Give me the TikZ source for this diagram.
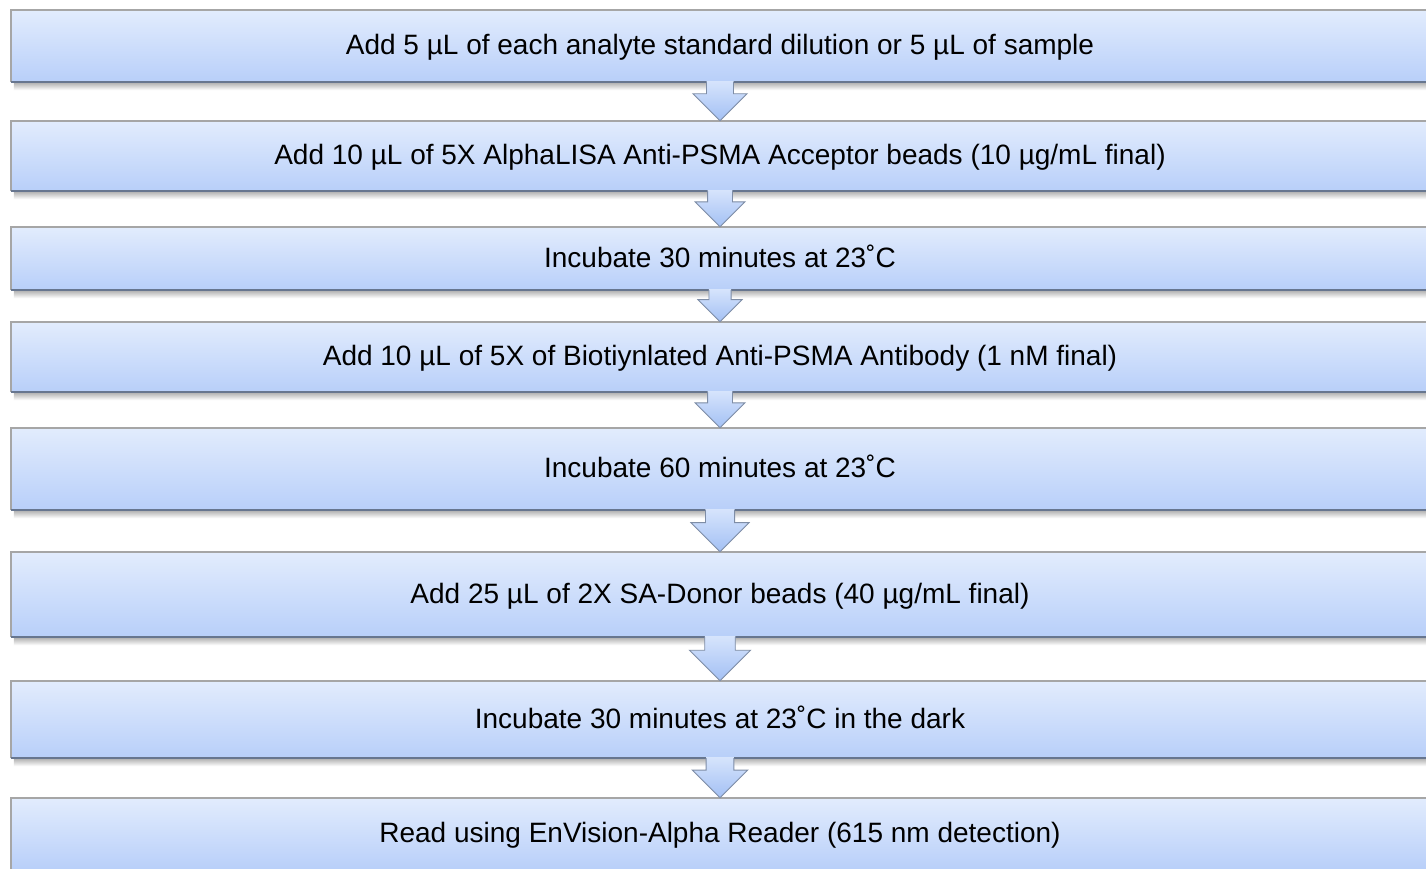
\documentclass[tikz,border=0pt]{standalone}
\usepackage{fontspec}
\setmainfont{Liberation Sans}
\usetikzlibrary{calc,backgrounds}
\definecolor{boxtop}{HTML}{E2ECFD}
\definecolor{boxbot}{HTML}{B8CFF9}
\definecolor{edgelight}{HTML}{A6A6A6}
\definecolor{edgedark}{HTML}{67768F}
\definecolor{arrtop}{HTML}{D6E4FC}
\definecolor{arrbot}{HTML}{A3C0F4}
\definecolor{arredge}{HTML}{7E8DA6}
\tikzset{
  stepbox/.style={rectangle, minimum width=1418pt, inner sep=0pt,
    top color=boxtop, bottom color=boxbot, text height=17pt, text depth=0pt,
    font=\fontsize{28}{33}\selectfont, text=black},
  lightedge/.style={edgelight, line width=1.5pt},
  darkedge/.style={edgedark, line width=1.5pt},
  arrowbody/.style={top color=arrtop, bottom color=arrbot},
  arrowline/.style={arredge, line width=0.9pt, line join=miter},
  arrowshadow/.style={black, opacity=0.14},
}
\newcommand\boxdeco[1]{%
  \begin{scope}[on background layer]
    \shade[top color=black!32, bottom color=white]
      ($(#1.south west)+(3,0)$) rectangle ($(#1.south east)+(0,8)$);
  \end{scope}
  \draw[lightedge] (#1.south west) -- (#1.north west) -- (#1.north east);
  \draw[darkedge] (#1.south west) -- (#1.south east);
}
\newcommand\flowarrow[2]{%
  \fill[arrowshadow, yshift=-3pt] let \p1=(#1.south), \p2=(#2.north), \n1={\y1-\y2} in
    ({\x1-0.35*\n1},{\y1}) -- ({\x1-0.35*\n1},{\y2+0.7*\n1}) -- ({\x1-0.7*\n1},{\y2+0.7*\n1})
    -- (\x1,\y2) -- ({\x1+0.7*\n1},{\y2+0.7*\n1}) -- ({\x1+0.35*\n1},{\y2+0.7*\n1})
    -- ({\x1+0.35*\n1},{\y1}) -- cycle;
  \shade[arrowbody] let \p1=(#1.south), \p2=(#2.north), \n1={\y1-\y2} in
    ({\x1-0.35*\n1},{\y1+1pt}) -- ({\x1-0.35*\n1},{\y2+0.7*\n1}) -- ({\x1-0.7*\n1},{\y2+0.7*\n1})
    -- (\x1,\y2) -- ({\x1+0.7*\n1},{\y2+0.7*\n1}) -- ({\x1+0.35*\n1},{\y2+0.7*\n1})
    -- ({\x1+0.35*\n1},{\y1+1pt}) -- cycle;
  \draw[arrowline] let \p1=(#1.south), \p2=(#2.north), \n1={\y1-\y2} in
    ({\x1-0.35*\n1},{\y1}) -- ({\x1-0.35*\n1},{\y2+0.7*\n1}) -- ({\x1-0.7*\n1},{\y2+0.7*\n1})
    -- (\x1,\y2) -- ({\x1+0.7*\n1},{\y2+0.7*\n1}) -- ({\x1+0.35*\n1},{\y2+0.7*\n1})
    -- ({\x1+0.35*\n1},{\y1});
}
\begin{document}
\begin{tikzpicture}[x=1pt,y=-1pt]
\useasboundingbox (0,0) rectangle (1426,869);
\begin{scope}[on background layer]
  \fill[white] (0,0) rectangle (1426,869);
\end{scope}
\clip (0,0) rectangle (1426,869);

\node[stepbox, minimum height=72pt] (b1) at (720,46)
  {Add 5 µL of each analyte standard dilution or 5 µL of sample};
\node[stepbox, minimum height=70pt] (b2) at (720,156)
  {Add 10 µL of 5X AlphaLISA Anti-PSMA Acceptor beads (10 µg/mL final)};
\node[stepbox, minimum height=63pt] (b3) at (720,258.5)
  {Incubate 30 minutes at 23˚C};
\node[stepbox, minimum height=70pt] (b4) at (720,357)
  {Add 10 µL of 5X of Biotiynlated Anti-PSMA Antibody (1 nM final)};
\node[stepbox, minimum height=82pt] (b5) at (720,469)
  {Incubate 60 minutes at 23˚C};
\node[stepbox, minimum height=85pt] (b6) at (720,594.5)
  {Add 25 µL of 2X SA-Donor beads (40 µg/mL final)};
\node[stepbox, minimum height=77pt] (b7) at (720,719.5)
  {Incubate 30 minutes at 23˚C in the dark};
\node[stepbox, minimum height=72pt] (b8) at (720,834)
  {Read using EnVision-Alpha Reader (615 nm detection)};

\boxdeco{b1}\boxdeco{b2}\boxdeco{b3}\boxdeco{b4}
\boxdeco{b5}\boxdeco{b6}\boxdeco{b7}\boxdeco{b8}

\flowarrow{b1}{b2}
\flowarrow{b2}{b3}
\flowarrow{b3}{b4}
\flowarrow{b4}{b5}
\flowarrow{b5}{b6}
\flowarrow{b6}{b7}
\flowarrow{b7}{b8}
\end{tikzpicture}
\end{document}
